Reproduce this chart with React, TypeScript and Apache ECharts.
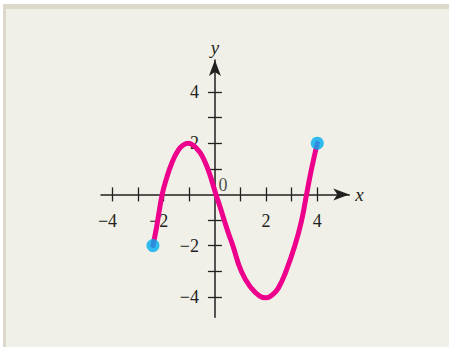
import React, { useEffect, useRef } from "react";
import * as echarts from "echarts";

const curvePoints: [number, number][] = [
  [-2.42, -2.0], [-2.3, -1.39], [-2.19, -0.74], [-2.06, 0], [-1.91, 0.56],
  [-1.69, 1.21], [-1.43, 1.73], [-1.22, 1.94], [-1.04, 2.0], [-0.85, 1.92],
  [-0.65, 1.72], [-0.48, 1.47], [-0.26, 0.95], [-0.09, 0.43], [0.04, 0],
  [0.2, -0.48], [0.36, -1.0], [0.53, -1.52], [0.7, -2.0], [1.04, -3.02],
  [1.43, -3.67], [1.75, -3.97], [2.0, -4.04], [2.22, -3.94], [2.47, -3.67],
  [2.77, -3.02], [3.13, -1.98], [3.39, -1.0], [3.58, 0], [3.78, 1.02], [4, 2],
];
const endPoints: [number, number][] = [[-2.42, -2.0], [4, 2]];
const xTicks = [-4, -3, -2, -1, 1, 2, 3, 4];
const xLabels = [-4, -2, 2, 4];
const yTicks = [-4, -3, -2, -1, 1, 2, 3, 4];
const yLabels = [-4, -2, 2, 4];
const xRange = { min: -4.45, max: 5.25 };
const yRange = { min: -4.8, max: 5.25 };

const INK = "#231f20";
const FONT = "Liberation Serif";
const W = 449;
const H = 347;
const GRID = { left: 101, right: 99.7, top: 60, bottom: 29.7 };

const fmt = (v: number) => (v < 0 ? `−${Math.abs(v)}` : `${v}`);

export default function App() {
  const ref = useRef<HTMLDivElement>(null);
  useEffect(() => {
    if (!ref.current) return;
    const chart = echarts.init(ref.current, undefined, { renderer: "svg" });
    const gw = W - GRID.left - GRID.right;
    const gh = H - GRID.top - GRID.bottom;
    // distance of the zero lines from the grid edges
    const zeroFromLeft = ((0 - xRange.min) / (xRange.max - xRange.min)) * gw;
    const zeroFromRight = gw - zeroFromLeft;
    const zeroFromTop = ((yRange.max - 0) / (yRange.max - yRange.min)) * gh;
    const zeroFromBottom = gh - zeroFromTop;
    const tick = { show: true, length: 7, lineStyle: { color: INK, width: 1.3 } };
    const baseAxis = (extra: any) => ({
      type: "value",
      splitLine: { show: false },
      ...extra,
    });
    chart.setOption({
      animation: false,
      grid: { ...GRID, containLabel: false },
      xAxis: [
        baseAxis({
          ...xRange,
          position: "bottom",
          offset: -zeroFromBottom,
          name: "x",
          nameLocation: "end",
          nameGap: 6,
          nameTextStyle: { fontFamily: FONT, fontStyle: "italic", fontSize: 19, color: INK },
          axisLine: {
            onZero: false,
            symbol: ["none", "arrow"],
            symbolSize: [9, 16],
            lineStyle: { color: INK, width: 1.5 },
          },
          axisTick: { ...tick, customValues: xTicks },
          axisLabel: {
            customValues: xLabels,
            margin: 18,
            color: INK,
            fontFamily: FONT,
            fontSize: 18,
            formatter: (v: number) => (v < 0 ? `{n|${fmt(v)}}` : fmt(v)),
            rich: { n: { fontFamily: FONT, fontSize: 18, color: INK, padding: [0, 10, 0, 0] } },
          },
        }),
        baseAxis({
          ...xRange,
          position: "top",
          offset: -zeroFromTop,
          axisLine: { onZero: false, lineStyle: { color: INK, width: 1.5, opacity: 0 } },
          axisTick: { ...tick, customValues: xTicks },
          axisLabel: { show: false },
        }),
      ],
      yAxis: [
        baseAxis({
          ...yRange,
          position: "left",
          offset: -zeroFromLeft,
          name: "y",
          nameLocation: "end",
          nameGap: 3,
          nameTextStyle: { fontFamily: FONT, fontStyle: "italic", fontSize: 19, color: INK },
          axisLine: {
            onZero: false,
            symbol: ["none", "arrow"],
            symbolSize: [9, 16],
            lineStyle: { color: INK, width: 1.5 },
          },
          axisTick: { ...tick, customValues: yTicks },
          axisLabel: {
            customValues: yLabels,
            margin: 16,
            color: INK,
            fontFamily: FONT,
            fontSize: 18,
            formatter: fmt,
          },
        }),
        baseAxis({
          ...yRange,
          position: "right",
          offset: -zeroFromRight,
          axisLine: { onZero: false, lineStyle: { color: INK, width: 1.5, opacity: 0 } },
          axisTick: { ...tick, customValues: yTicks },
          axisLabel: { show: false },
        }),
      ],
      series: [
        {
          type: "line",
          xAxisIndex: 0,
          yAxisIndex: 0,
          data: curvePoints,
          smooth: 0.5,
          showSymbol: false,
          lineStyle: { color: "#ec008c", width: 5, cap: "round", join: "round" },
          z: 3,
        },
        {
          type: "scatter",
          xAxisIndex: 0,
          yAxisIndex: 0,
          data: endPoints,
          symbolSize: 13,
          itemStyle: { color: "#00aeef" },
          z: 4,
        },
        {
          type: "scatter",
          xAxisIndex: 0,
          yAxisIndex: 0,
          data: [[0, 0]],
          symbolSize: 0,
          silent: true,
          label: {
            show: true,
            formatter: "0",
            position: "inside",
            offset: [8, -9.5],
            fontFamily: FONT,
            fontSize: 18,
            color: INK,
          },
          z: 2,
        },
      ],
    });
    return () => chart.dispose();
  }, []);

  return (
    <div style={{ position: "fixed", left: 0, top: 0, width: W, height: H, background: "#ffffff" }}>
      <div
        style={{
          position: "absolute",
          left: 3,
          top: 4,
          right: 0,
          bottom: 0,
          background: "#f1f0e8",
          borderTop: "5px solid #dcd9cb",
          borderLeft: "3px solid #dcd9cb",
        }}
      />
      <div ref={ref} style={{ position: "absolute", left: 0, top: 0, width: W, height: H }} />
    </div>
  );
}
